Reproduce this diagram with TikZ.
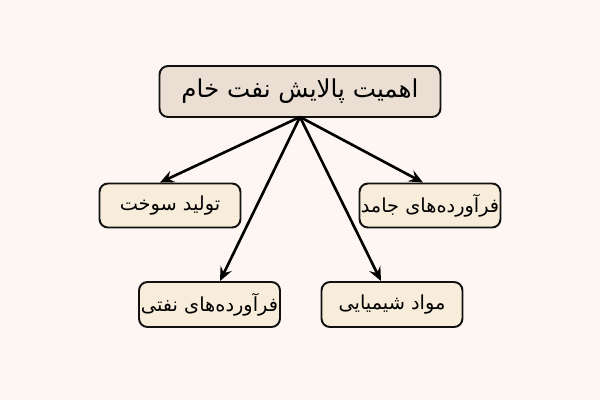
\documentclass[tikz,border=0pt]{standalone}
\usepackage{fontspec}
\usetikzlibrary{arrows.meta,calc}
\TeXXeTstate=1
\newfontfamily\arabicfont[Script=Arabic]{DejaVu Sans}
\definecolor{bgc}{HTML}{FDF6F2}
\definecolor{topfill}{HTML}{EBDFD3}
\definecolor{subfill}{HTML}{F8EDDB}
\definecolor{edgec}{HTML}{111111}
\tikzset{
  basebox/.style={draw=edgec, line width=1.1pt, rounded corners=0.17cm, inner sep=0pt, align=center, text=black},
  topbox/.style={basebox, fill=topfill, minimum width=5.62cm, minimum height=1.02cm, font=\arabicfont\fontsize{14}{17}\selectfont},
  subbox/.style={basebox, fill=subfill, minimum width=2.82cm, minimum height=0.88cm, font=\arabicfont\fontsize{11}{13}\selectfont},
  conn/.style={line width=1.5pt, draw=black, -{Stealth[length=8pt,width=7pt,inset=3pt]}}
}
\begin{document}
\begin{tikzpicture}[x=0.02cm,y=-0.02cm]
\fill[bgc] (0,0) rectangle (600,400);
\useasboundingbox (0,0) rectangle (600,400);
\node[topbox] (top) at (300,91.5) {\beginR اهمیت پالایش نفت خام\endR};
\node[subbox] (sookht) at (170,205.5) {\beginR تولید سوخت\endR};
\node[subbox] (jamed) at (430,205.5) {\beginR فرآورده‌های جامد\endR};
\node[subbox, minimum height=0.9cm] (nafti) at (209.5,304.5) {\beginR فرآورده‌های نفتی\endR};
\node[subbox, minimum height=0.9cm] (mavad) at (392,304.5) {\beginR مواد شیمیایی\endR};
\coordinate (src) at ($(top.south)+(0,-1)$);
\draw[conn] (src) -- ($(sookht.north)+(-10,0)$);
\draw[conn] (src) -- ($(jamed.north)+(-7,0)$);
\draw[conn] (src) -- ($(nafti.north)+(10.5,0)$);
\draw[conn] (src) -- ($(mavad.north)+(-11,0)$);
\end{tikzpicture}
\end{document}
